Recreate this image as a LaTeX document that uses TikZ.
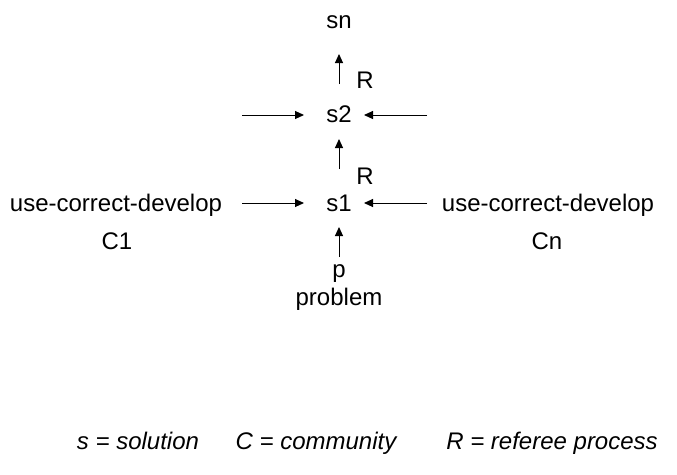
\documentclass[tikz,border=0pt]{standalone}
\usepackage{fontspec}
\setmainfont{Liberation Sans}
\usetikzlibrary{arrows.meta}
\begin{document}
\begin{tikzpicture}[x=1pt,y=-1pt,
  lbl/.style={inner sep=0pt,anchor=base,font=\fontsize{24}{28}\selectfont},
  legend/.style={lbl,font=\fontsize{24}{28}\selectfont\itshape},
  flow/.style={line width=1pt,-{Triangle[length=9pt,width=8pt]}}]
\useasboundingbox (0,0) rectangle (677,474);
% solution chain
\node[lbl] (sn) at (339,28) {sn};
\node[lbl] (s2) at (339,122) {s2};
\node[lbl] (s1) at (339,211) {s1};
\node[lbl] (p) at (339,277) {p};
\node[lbl] (prob) at (339,305) {problem};
% referee labels
\node[lbl] (r2) at (365,88) {R};
\node[lbl] (r1) at (365,184) {R};
% communities
\node[lbl] (ucl) at (116,211) {use-correct-develop};
\node[lbl] (c1) at (117,249) {C1};
\node[lbl] (ucr) at (548,211) {use-correct-develop};
\node[lbl] (cn) at (547,249) {Cn};
% anchor points for the arrows
\coordinate (a1) at (339,84);  \coordinate (b1) at (339,54);
\coordinate (a2) at (339,169); \coordinate (b2) at (339,139);
\coordinate (a3) at (339,257); \coordinate (b3) at (339,227);
\coordinate (l2a) at (242,115); \coordinate (l2b) at (304,115);
\coordinate (r2a) at (427,115); \coordinate (r2b) at (364,115);
\coordinate (l1a) at (242,203); \coordinate (l1b) at (304,203);
\coordinate (r1a) at (427,203); \coordinate (r1b) at (364,203);
\draw[flow] (a1) -- (b1);
\draw[flow] (a2) -- (b2);
\draw[flow] (a3) -- (b3);
\draw[flow] (l2a) -- (l2b);
\draw[flow] (r2a) -- (r2b);
\draw[flow] (l1a) -- (l1b);
\draw[flow] (r1a) -- (r1b);
% legend
\node[legend] (ls) at (138,449) {s = solution};
\node[legend] (lc) at (316,449) {C = community};
\node[legend] (lr) at (552,449) {R = referee process};
\end{tikzpicture}
\end{document}
